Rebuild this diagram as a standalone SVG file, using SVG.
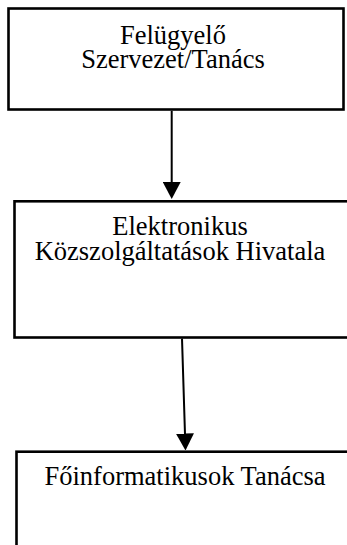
<svg xmlns="http://www.w3.org/2000/svg" width="347" height="545" viewBox="0 0 347 545">
  <style>
    .box { fill: #ffffff; stroke: #000000; stroke-width: 2.6; }
    .lbl { font-family: "Liberation Serif", "Times New Roman", serif; font-size: 26.5px; fill: #000000; text-anchor: middle; }
    .conn { stroke: #000000; stroke-width: 2; fill: none; }
  </style>
  <defs>
    <marker id="arrow" markerUnits="userSpaceOnUse" markerWidth="17" markerHeight="18" viewBox="0 0 17 18" refX="1" refY="9" orient="auto">
      <path d="M0,0 L17,9 L0,18 z" fill="#000000"/>
    </marker>
  </defs>
  <rect width="347" height="545" fill="#ffffff"/>
  <g id="node-felugyelo">
    <rect class="box" x="8.5" y="8.5" width="335" height="101"/>
    <text class="lbl" x="173" y="44">Felügyelő<tspan x="173" y="67.5">Szervezet/Tanács</tspan></text>
  </g>
  <g id="node-ekh">
    <rect class="box" x="14.5" y="201.3" width="345" height="136.2"/>
    <text class="lbl" x="180" y="234.5">Elektronikus<tspan x="180" y="260">Közszolgáltatások Hivatala</tspan></text>
  </g>
  <g id="node-foinformatikusok">
    <rect class="box" x="16.5" y="451.7" width="345" height="120"/>
    <text class="lbl" x="185" y="485">Főinformatikusok Tanácsa</text>
  </g>
  <g id="connectors">
    <line class="conn" x1="171.7" y1="110.8" x2="171.7" y2="183" marker-end="url(#arrow)"/>
    <line class="conn" x1="182" y1="338.6" x2="185" y2="434.5" marker-end="url(#arrow)"/>
  </g>
</svg>
